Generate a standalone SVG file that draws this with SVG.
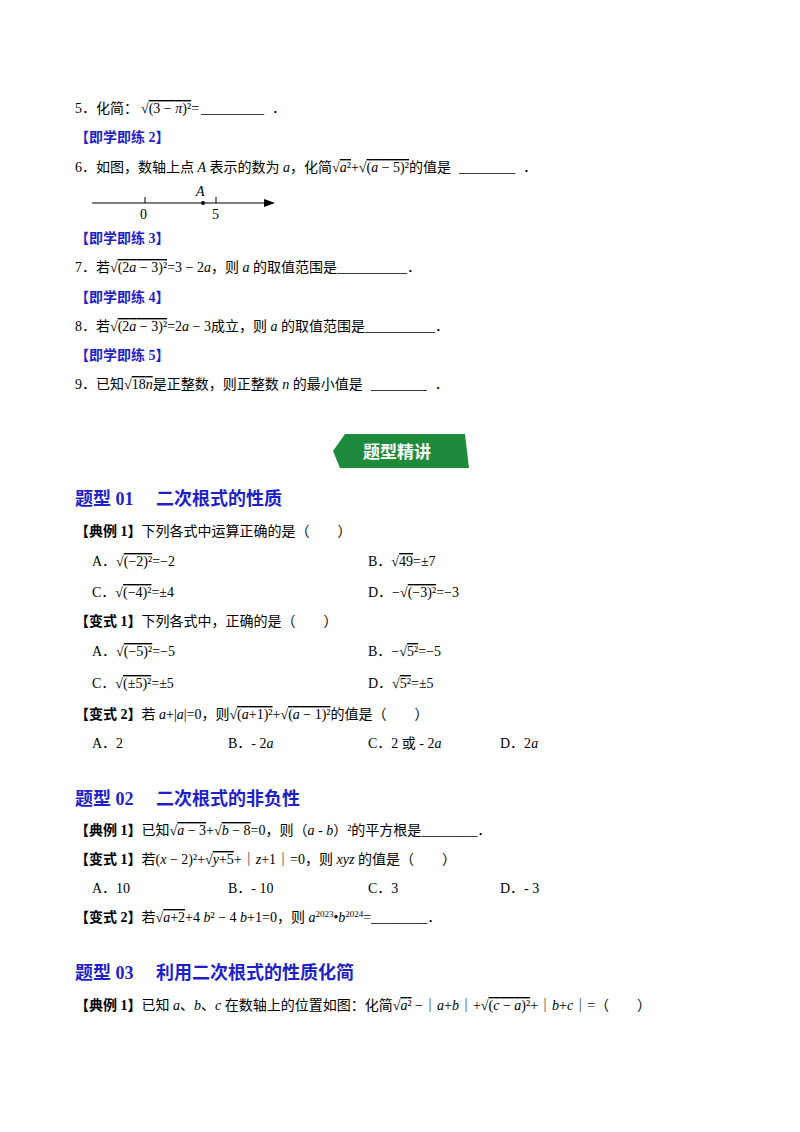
<svg xmlns="http://www.w3.org/2000/svg" width="800" height="1132" viewBox="0 0 800 1132">
<style>
text{font-family:"Liberation Serif","Noto Sans CJK SC",serif;font-size:14px;fill:#000}
.h{fill:#1f1fc8;font-weight:bold;font-size:14px}
.t{fill:#1f1fc8;font-weight:bold;font-size:18px}
.b{font-weight:bold}
.i{font-style:italic}
.o{text-decoration:overline}
</style>
<rect width="800" height="1132" fill="#fff"/>
<text x="75" y="113">5．化简：<tspan dx="3">√</tspan><tspan class="o">(3 − <tspan class="i">π</tspan>)²</tspan>=<tspan dx="2">_________</tspan><tspan dx="8">．</tspan></text>
<text x="75" y="142" class="h">【即学即练 2】</text>
<text x="75" y="172">6．如图，数轴上点 <tspan class="i">A</tspan> 表示的数为 <tspan class="i">a</tspan>，化简√<tspan class="o"><tspan class="i">a</tspan>²</tspan>+√<tspan class="o">(<tspan class="i">a</tspan> − 5)²</tspan>的值是<tspan dx="8">________</tspan><tspan dx="8">．</tspan></text>
<g>
<line x1="92" y1="203" x2="270" y2="203" stroke="#000" stroke-width="1.2"/>
<polygon points="275,203 264,199 264,207" fill="#000"/>
<line x1="145" y1="197" x2="145" y2="203" stroke="#000"/>
<line x1="216" y1="197" x2="216" y2="203" stroke="#000"/>
<circle cx="203" cy="203" r="2" fill="#000"/>
<text x="196" y="196" class="i">A</text>
<text x="140" y="219">0</text><text x="212" y="219">5</text>
</g>
<text x="75" y="243" class="h">【即学即练 3】</text>
<text x="75" y="272">7．若√<tspan class="o">(2<tspan class="i">a</tspan> − 3)²</tspan>=3 − 2<tspan class="i">a</tspan>，则 <tspan class="i">a</tspan> 的取值范围是__________．</text>
<text x="75" y="302" class="h">【即学即练 4】</text>
<text x="75" y="331">8．若√<tspan class="o">(2<tspan class="i">a</tspan> − 3)²</tspan>=2<tspan class="i">a</tspan> − 3成立，则 <tspan class="i">a</tspan> 的取值范围是__________．</text>
<text x="75" y="360" class="h">【即学即练 5】</text>
<text x="75" y="389">9．已知√<tspan class="o">18<tspan class="i">n</tspan></tspan>是正整数，则正整数 <tspan class="i">n</tspan> 的最小值是<tspan dx="8">________</tspan><tspan dx="8">．</tspan></text>
<g>
<polygon points="345,434 465,434 469,468 340,468 333,451" fill="#1e8a3c"/>
<text x="363" y="458" style="font-size:17px;font-weight:bold;fill:#fff">题型精讲</text>
</g>
<text x="75" y="505" class="t">题型 01　 二次根式的性质</text>
<text x="75" y="536"><tspan class="b">【典例 1】</tspan>下列各式中运算正确的是（　　）</text>
<text x="92" y="566">A．√<tspan class="o">(−2)²</tspan>=−2</text>
<text x="368" y="566">B．√<tspan class="o">49</tspan>=±7</text>
<text x="92" y="597">C．√<tspan class="o">(−4)²</tspan>=±4</text>
<text x="368" y="597">D．−√<tspan class="o">(−3)²</tspan>=−3</text>
<text x="75" y="626"><tspan class="b">【变式 1】</tspan>下列各式中，正确的是（　　）</text>
<text x="92" y="656">A．√<tspan class="o">(−5)²</tspan>=−5</text>
<text x="368" y="656">B．−√<tspan class="o">5²</tspan>=−5</text>
<text x="92" y="688">C．√<tspan class="o">(±5)²</tspan>=±5</text>
<text x="368" y="688">D．√<tspan class="o">5²</tspan>=±5</text>
<text x="75" y="719"><tspan class="b">【变式 2】</tspan>若 <tspan class="i">a</tspan>+|<tspan class="i">a</tspan>|=0，则√<tspan class="o">(<tspan class="i">a</tspan>+1)²</tspan>+√<tspan class="o">(<tspan class="i">a</tspan> − 1)²</tspan>的值是（　　）</text>
<text x="92" y="748">A．2</text><text x="228" y="748">B．- 2<tspan class="i">a</tspan></text><text x="368" y="748">C．2 或 - 2<tspan class="i">a</tspan></text><text x="500" y="748">D．2<tspan class="i">a</tspan></text>
<text x="75" y="805" class="t">题型 02　 二次根式的非负性</text>
<text x="75" y="835"><tspan class="b">【典例 1】</tspan>已知√<tspan class="o"><tspan class="i">a</tspan> − 3</tspan>+√<tspan class="o"><tspan class="i">b</tspan> − 8</tspan>=0，则（<tspan class="i">a</tspan> - <tspan class="i">b</tspan>）²的平方根是________．</text>
<text x="75" y="864"><tspan class="b">【变式 1】</tspan>若(<tspan class="i">x</tspan> − 2)²+√<tspan class="o"><tspan class="i">y</tspan>+5</tspan>+｜<tspan class="i">z</tspan>+1｜=0，则 <tspan class="i">xyz</tspan> 的值是（　　）</text>
<text x="92" y="893">A．10</text><text x="228" y="893">B．- 10</text><text x="368" y="893">C．3</text><text x="500" y="893">D．- 3</text>
<text x="75" y="922"><tspan class="b">【变式 2】</tspan>若√<tspan class="o"><tspan class="i">a</tspan>+2</tspan>+4 <tspan class="i">b</tspan>² − 4 <tspan class="i">b</tspan>+1=0，则 <tspan class="i">a</tspan><tspan font-size="9" dy="-5">2023</tspan><tspan dy="5">•</tspan><tspan class="i">b</tspan><tspan font-size="9" dy="-5">2024</tspan><tspan dy="5">=________．</tspan></text>
<text x="75" y="979" class="t">题型 03　 利用二次根式的性质化简</text>
<text x="75" y="1010"><tspan class="b">【典例 1】</tspan>已知 <tspan class="i">a</tspan>、<tspan class="i">b</tspan>、<tspan class="i">c</tspan> 在数轴上的位置如图：化简√<tspan class="o"><tspan class="i">a</tspan>²</tspan> −｜<tspan class="i">a</tspan>+<tspan class="i">b</tspan>｜+√<tspan class="o">(<tspan class="i">c</tspan> − <tspan class="i">a</tspan>)²</tspan>+｜<tspan class="i">b</tspan>+<tspan class="i">c</tspan>｜=（　　）</text>
</svg>
